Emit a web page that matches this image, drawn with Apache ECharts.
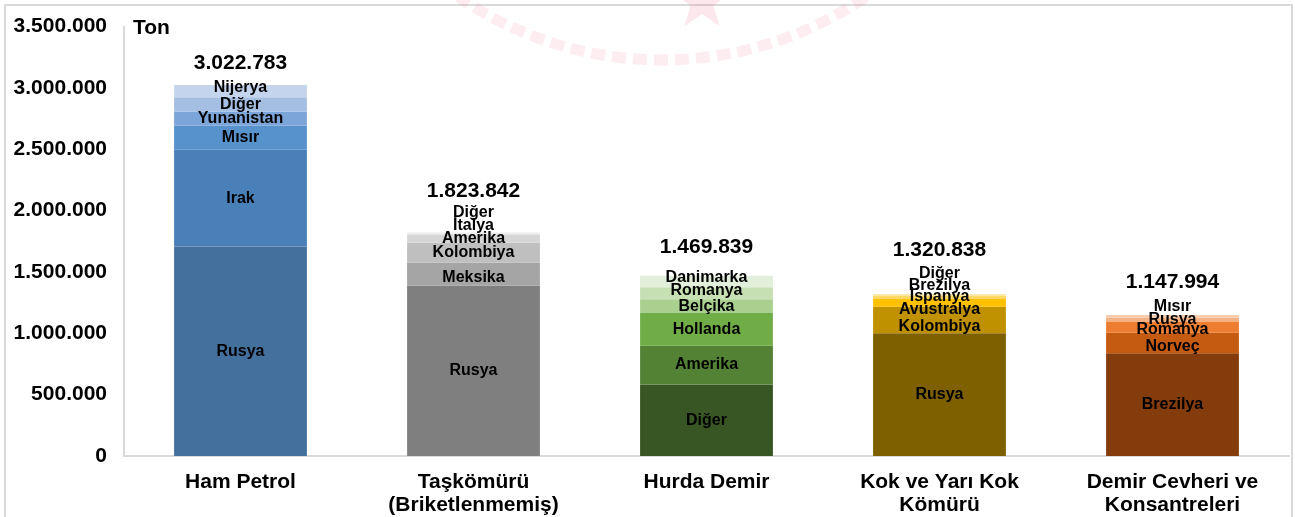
<!DOCTYPE html>
<html>
  <head>
    <title>İthalat - Ton</title>
    <meta charset="utf-8">
    <script type="text/javascript" src="https://cdn.jsdelivr.net/npm/echarts@6/dist/echarts.min.js"></script>
    <style>
      html, body { margin: 0; padding: 0; background: #fff; }
    </style>
  </head>
  <body>
    <div id="main" style="width: 1295px;height:517px;"></div>

  <script type="text/javascript">
    // ürünler (x ekseni)
    var categories = ['Ham Petrol', 'Taşkömürü\n(Briketlenmemiş)', 'Hurda Demir', 'Kok ve Yarı Kok\nKömürü', 'Demir Cevheri ve\nKonsantreleri'];
    var totals = [3022783, 1823842, 1469839, 1320838, 1147994];

    // ülkeler, alttan üste
    var hamPetrolNames = ['Rusya', 'Irak', 'Mısır', 'Yunanistan', 'Diğer', 'Nijerya'];
    var hamPetrolValues = [1707000, 789000, 195000, 116000, 117000, 98783];

    var taskomuruNames = ['Rusya', 'Meksika', 'Kolombiya', 'Amerika', 'İtalya', 'Diğer'];
    var taskomuruValues = [1390000, 185000, 163000, 68000, 9000, 8842];

    var hurdaNames = ['Diğer', 'Amerika', 'Hollanda', 'Belçika', 'Romanya', 'Danimarka'];
    var hurdaValues = [583000, 316000, 266000, 113000, 97000, 94839];

    var kokNames = ['Rusya', 'Kolombiya', 'Avustralya', 'İspanya', 'Brezilya', 'Diğer'];
    var kokValues = [1000000, 116000, 100000, 63000, 24000, 17838];

    var demirNames = ['Brezilya', 'Norveç', 'Romanya', 'Rusya', 'Mısır'];
    var demirValues = [838000, 166000, 88000, 34000, 21994];

    var yTicks = [0, 500000, 1000000, 1500000, 2000000, 2500000, 3000000, 3500000];

    // renkler ve etiket kaydırmaları (stil)
    var palettes = [
      ['#43709D', '#4A80B8', '#5792CD', '#7CA6D9', '#A5BFE3', '#C4D4EC'],
      ['#7F7F7F', '#A5A5A5', '#BFBFBF', '#D6D6D6', '#E4E4E4', '#F2F2F2'],
      ['#375623', '#548235', '#70AD47', '#A9D08E', '#C6E0B4', '#E2EFDA'],
      ['#7F6000', '#BF9000', '#C09100', '#FFC000', '#FFD966', '#FFE9A8'],
      ['#843C0C', '#C55A11', '#ED7D31', '#F4B183', '#F8CBAD']
    ];
    var labelShift = [
      [0, 0, 0, 0, 0, -4],
      [0, 4, 0, 0, -8, -20],
      [0, 0, 0, 0, -3, -4],
      [0, 0, -3, -6, -12, -21],
      [0, 4, 2, 0, -10]
    ];
    var totalLift = [6, 25, 12, 28, 17];

    var names = [hamPetrolNames, taskomuruNames, hurdaNames, kokNames, demirNames];
    var values = [hamPetrolValues, taskomuruValues, hurdaValues, kokValues, demirValues];

    function fmt(v) {
      return String(Math.round(v)).replace(/\B(?=(\d{3})+(?!\d))/g, '.');
    }

    var FONT = '"Liberation Sans", Arial, sans-serif';

    var series = [];
    for (var r = 0; r < 6; r++) {
      (function (r) {
        var data = [];
        for (var i = 0; i < categories.length; i++) {
          if (values[i][r] == null) { data.push('-'); continue; }
          data.push({
            value: values[i][r],
            itemStyle: { color: palettes[i][r] },
            label: { offset: [0, labelShift[i][r]] }
          });
        }
        series.push({
          type: 'bar',
          stack: 'toplam',
          barWidth: '57%',
          data: data,
          label: {
            show: true,
            position: 'inside',
            color: '#000',
            fontFamily: FONT,
            fontWeight: 'bold',
            fontSize: 16,
            formatter: function (p) { return names[p.dataIndex][r]; }
          }
        });
      })(r);
    }

    // toplam etiketleri
    var totalLabel = {
      show: true,
      position: 'top',
      color: '#000',
      fontFamily: FONT,
      fontWeight: 'bold',
      fontSize: 21,
      formatter: function (p) { return fmt(p.value); }
    };
    series.push({
      type: 'scatter',
      symbolSize: 1,
      itemStyle: { color: 'rgba(255,255,255,0)', opacity: 1 },
      silent: true,
      z: 5,
      data: totals.map(function (t, i) {
        return { value: t, label: Object.assign({}, totalLabel, { offset: [0, -totalLift[i]] }) };
      }),
      label: totalLabel,
      emphasis: { disabled: true }
    });

    // arka plandaki soluk amblem
    var star = [];
    for (var k = 0; k < 10; k++) {
      var a = -Math.PI / 2 + k * Math.PI / 5;
      var rr = k % 2 === 0 ? 30 : 12;
      star.push([702 + rr * Math.cos(a), 2 + rr * Math.sin(a)]);
    }

    var dom = document.getElementById('main');
    var myChart = echarts.init(dom, null, { renderer: 'canvas' });
    var option = {
      animation: false,
      backgroundColor: '#fff',
      textStyle: { fontFamily: FONT },
      grid: { left: 124, right: 6, top: 26.5, bottom: 60, containLabel: false },
      graphic: [
        {
          type: 'rect', z: -10, silent: true,
          shape: { x: 5, y: 5, width: 1287, height: 530 },
          style: { fill: 'none', stroke: '#D9D9D9', lineWidth: 2 }
        },
        {
          type: 'arc', z: -10, silent: true,
          shape: { cx: 662, cy: -300, r: 360, startAngle: Math.PI / 2 - 0.6, endAngle: Math.PI / 2 + 0.6 },
          style: { fill: 'none', stroke: 'rgba(240,140,160,0.16)', lineWidth: 11, lineDash: [14, 7] }
        },
        {
          type: 'polygon', z: -10, silent: true,
          shape: { points: star },
          style: { fill: 'rgba(240,140,160,0.2)' }
        },
        {
          type: 'text', left: 133, top: 18,
          style: { text: 'Ton', fill: '#000', font: 'bold 21px ' + FONT }
        }
      ],
      xAxis: {
        type: 'category',
        data: categories,
        axisTick: { show: false },
        axisLine: { lineStyle: { color: '#D9D9D9', width: 2 } },
        axisLabel: {
          color: '#000',
          fontFamily: FONT,
          fontWeight: 'bold',
          fontSize: 21,
          lineHeight: 23,
          margin: 15,
          interval: 0
        }
      },
      yAxis: {
        type: 'value',
        min: yTicks[0],
        max: yTicks[yTicks.length - 1],
        interval: yTicks[1] - yTicks[0],
        splitLine: { show: false },
        axisTick: { show: false },
        axisLine: { show: true, lineStyle: { color: '#D9D9D9', width: 2 } },
        axisLabel: {
          color: '#000',
          fontFamily: FONT,
          fontWeight: 'bold',
          fontSize: 21,
          margin: 17,
          formatter: function (v) { return fmt(v); }
        }
      },
      series: series
    };

    myChart.setOption(option, true);
  </script>
  </body>
</html>
